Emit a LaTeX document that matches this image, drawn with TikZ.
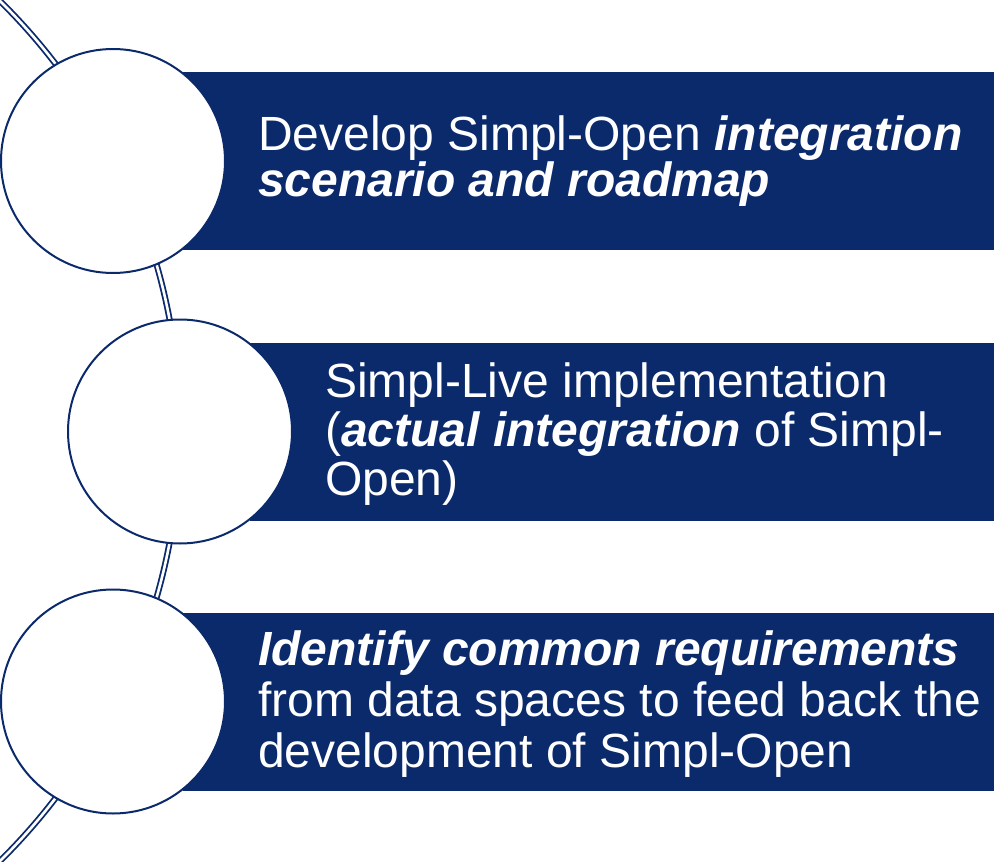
\documentclass[tikz,border=0pt]{standalone}
\usepackage{fontspec}
\setmainfont{Liberation Sans}
\usetikzlibrary{positioning}
\definecolor{deepnavy}{RGB}{11,42,107}
\tikzstyle{banner} = [rectangle, draw=none, fill=deepnavy, minimum width=811pt, minimum height=178pt, inner sep=0pt, anchor=west]
\tikzstyle{disc} = [circle, draw=deepnavy, line width=2pt, fill=white, minimum size=224pt, inner sep=0pt]
\tikzstyle{caption} = [anchor=base west, align=left, text=white, inner sep=0pt]
\tikzstyle{rail} = [draw=deepnavy, line width=1.8pt, double=white, double distance=2.6pt]
\newcommand{\tightfont}[1]{\fontsize{48}{#1}\selectfont\lineskiplimit=-100pt}

\begin{document}
\begin{tikzpicture}[x=1pt, y=-1pt]
        \useasboundingbox (0,0) rectangle (994,862);
        \clip (0,0) rectangle (994,862);
        % Rail ------------------------------------------------------------------------------------
        \coordinate (hub) at (-423.6,431);
        \draw[rail] (hub) ++(-47:603.6) arc[start angle=-47, end angle=47, radius=603.6];
        % Banners ---------------------------------------------------------------------------------
        \node[banner] (bar_roadmap) at (183,161) {};
        \node[banner, minimum width=744pt] (bar_live) at (250,431.5) {};
        \node[banner] (bar_needs) at (183,701.5) {};
        % Discs -----------------------------------------------------------------------------------
        \node[disc, left=70pt of bar_roadmap.west, anchor=center] (disc_roadmap) {};
        \node[disc, left=70pt of bar_live.west, anchor=center] (disc_live) {};
        \node[disc, left=70pt of bar_needs.west, anchor=center] (disc_needs) {};
        % Captions (anchored on the last line) ----------------------------------------------------
        \node[caption, font=\tightfont{46}] (text_roadmap) at (258,196)
            {Develop Simpl-Open \textbf{\textit{integration}}\\\textbf{\textit{scenario and roadmap}}};
        \node[caption, font=\tightfont{49}] (text_live) at (325,495)
            {Simpl-Live implementation\\(\textbf{\textit{actual integration}} of Simpl-\\Open)};
        \node[caption, font=\tightfont{51}] (text_needs) at (258,767)
            {\textbf{\textit{Identify common requirements}}\\from data spaces to feed back the\\development of Simpl-Open};
    \end{tikzpicture}
\end{document}
